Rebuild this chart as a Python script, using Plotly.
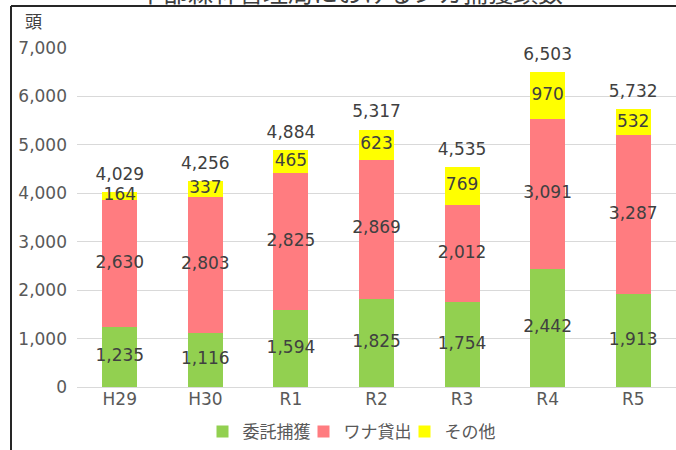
import plotly.graph_objects as go

categories = ["H29", "H30", "R1", "R2", "R3", "R4", "R5"]
itaku = [1235, 1116, 1594, 1825, 1754, 2442, 1913]
wana = [2630, 2803, 2825, 2869, 2012, 3091, 3287]
sonota = [164, 337, 465, 623, 769, 970, 532]
series_names = ["委託捕獲", "ワナ貸出", "その他"]
title_text = "中部森林管理局におけるシカ捕獲頭数"
y_unit = "頭"

colors = ["#92D050", "#FF7C80", "#FFFF00"]
CJK = "Noto Sans CJK JP"
NUM = "DejaVu Sans, Noto Sans CJK JP"
TXT = "#404040"

totals = [a + b + c for a, b, c in zip(itaku, wana, sonota)]

fig = go.Figure()
series = [itaku, wana, sonota]
for name, vals, col in zip(series_names, series, colors):
    fig.add_trace(go.Bar(x=categories, y=vals, name=name, marker_color=col,
                         marker_line_width=0, width=0.41, hoverinfo="skip"))

# segment labels at the centre of each segment
base = [0] * len(categories)
for vals in series:
    mids = [b + v / 2 for b, v in zip(base, vals)]
    fig.add_trace(go.Scatter(x=categories, y=mids, mode="text",
                             text=[f"{v:,}" for v in vals],
                             textposition="middle center", cliponaxis=False,
                             textfont=dict(family=NUM, size=17, color=TXT),
                             showlegend=False, hoverinfo="skip"))
    base = [b + v for b, v in zip(base, vals)]

fig.add_trace(go.Scatter(x=categories, y=totals, mode="markers+text",
                         marker=dict(size=11, color="rgba(0,0,0,0)"),
                         text=[f"{v:,}" for v in totals],
                         textposition="top center", cliponaxis=False,
                         textfont=dict(family=NUM, size=17, color=TXT),
                         showlegend=False, hoverinfo="skip"))

L, R, T, B = 77, 0, 48, 62
W, H = 676, 450
pw, ph = W - L - R, H - T - B

def px_x(px):
    return (px - L) / pw

def px_y(py):
    return (H - B - py) / ph

fig.update_layout(
    width=W, height=H,
    margin=dict(l=L, r=R, t=T, b=B),
    paper_bgcolor="white", plot_bgcolor="white",
    barmode="stack",
    font=dict(family=NUM, color="#595959", size=17),
    showlegend=True,
    legend=dict(orientation="h", x=px_x(354), xanchor="center", y=px_y(433), yanchor="middle",
                font=dict(family=CJK, size=17, color="#595959"), itemwidth=30,
                entrywidth=56, entrywidthmode="pixels",
                traceorder="normal", bgcolor="rgba(0,0,0,0)"),
    xaxis=dict(showgrid=False, showline=False, ticks="",
               tickfont=dict(family=NUM, size=17, color="#595959")),
    yaxis=dict(range=[0, 7000], dtick=1000, tickformat=",", showgrid=True,
               gridcolor="#D9D9D9", gridwidth=1, zeroline=True, zerolinecolor="#D9D9D9",
               zerolinewidth=1, showline=False, ticks="",
               tickfont=dict(family=NUM, size=17, color="#595959"), ticklabelstandoff=9),
    annotations=[
        dict(text=y_unit, xref="paper", yref="paper", x=px_x(33), y=px_y(20),
             xanchor="center", yanchor="middle", showarrow=False,
             font=dict(size=17, color="#404040", family=CJK)),
        dict(text=title_text, xref="paper", yref="paper", x=px_x(350), y=px_y(-9),
             xanchor="center", yanchor="middle", showarrow=False,
             font=dict(size=25, color="#404040", family=CJK)),
    ],
    shapes=[
        dict(type="line", xref="paper", yref="paper", x0=px_x(11), x1=px_x(680),
             y0=px_y(6), y1=px_y(6), line=dict(color="#262626", width=2), layer="above"),
        dict(type="line", xref="paper", yref="paper", x0=px_x(11), x1=px_x(11),
             y0=px_y(6), y1=px_y(455), line=dict(color="#262626", width=2), layer="above"),
    ],
)

fig.write_html("out.html", config={"displayModeBar": False},
               post_script="document.body.style.margin='0';document.body.style.overflow='hidden';")
